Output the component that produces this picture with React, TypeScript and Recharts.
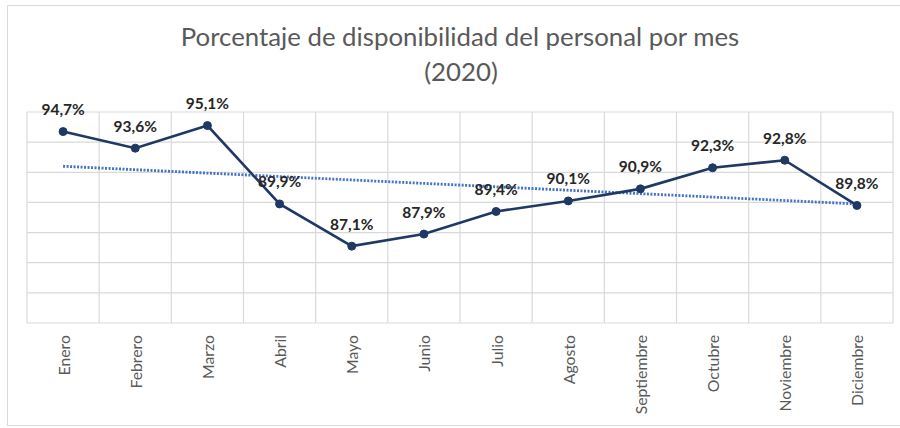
import React from "react";
import { LineChart, Line, XAxis, YAxis, CartesianGrid, LabelList } from "recharts";

const months = ["Enero", "Febrero", "Marzo", "Abril", "Mayo", "Junio", "Julio", "Agosto", "Septiembre", "Octubre", "Noviembre", "Diciembre"];
const availability = [94.7, 93.6, 95.1, 89.9, 87.1, 87.9, 89.4, 90.1, 90.9, 92.3, 92.8, 89.8];
// linear trendline end values (first and last month)
const trendEnds = [92.4, 89.9];
const yTicks = [82, 84, 86, 88, 90, 92, 94, 96];
const titleLines = ["Porcentaje de disponibilidad del personal por mes", "(2020)"];

const data = months.map((m, i) => ({
  month: m,
  value: availability[i],
  trend: i === 0 ? trendEnds[0] : i === months.length - 1 ? trendEnds[1] : null,
}));

const FONT = "Lato, 'Noto Sans', sans-serif";

const renderLabel = (props: any) => {
  const { x, y, value } = props;
  if (value == null) return null;
  return (
    <text
      x={x}
      y={y - 22}
      dy="0.35em"
      textAnchor="middle"
      fontFamily={FONT}
      fontWeight={700}
      fontSize={15.5}
      fill="#262626"
    >
      {Number(value).toFixed(1).replace(".", ",") + "%"}
    </text>
  );
};

const renderTick = (props: any) => {
  const { x, y, payload } = props;
  return (
    <g transform={`translate(${x + 1},${y + 4})`}>
      <text
        transform="rotate(-90)"
        x={0}
        y={0}
        dy="0.35em"
        textAnchor="end"
        fontFamily={FONT}
        fontSize={15.8}
        fill="#595959"
      >
        {payload.value}
      </text>
    </g>
  );
};

const verticalGen = (p: any) => {
  const { offset } = p;
  const n = months.length;
  const arr: number[] = [];
  for (let i = 0; i <= n; i++) arr.push(offset.left + (i * offset.width) / n);
  return arr;
};

export default function App() {
  return (
    <div style={{ position: "absolute", left: 0, top: 0, width: 900, height: 428, background: "#fff", overflow: "hidden" }}>
      <div
        style={{
          position: "absolute",
          left: 7,
          top: 5,
          width: 900,
          height: 421,
          border: "1px solid #d9d9d9",
          boxSizing: "border-box",
        }}
      />
      <svg style={{ position: "absolute", left: 0, top: 0 }} width={900} height={100}>
        <text x={460} y={46} textAnchor="middle" fontFamily={FONT} fontSize={25.8} fill="#595959">
          {titleLines[0]}
        </text>
        <text x={461} y={81} textAnchor="middle" fontFamily={FONT} fontSize={25.8} fill="#595959">
          {titleLines[1]}
        </text>
      </svg>
      <div style={{ position: "absolute", left: 0, top: 0 }}>
        <LineChart width={900} height={428} data={data} margin={{ top: 112, right: 7, bottom: 15, left: 27 }}>
          <CartesianGrid stroke="#d9d9d9" strokeWidth={1.2} verticalCoordinatesGenerator={verticalGen} />
          <XAxis
            dataKey="month"
            scale="band"
            interval={0}
            tickLine={false}
            axisLine={false}
            height={90}
            tick={renderTick}
          />
          <YAxis hide domain={[82, 96]} ticks={yTicks} />
          <Line
            dataKey="trend"
            connectNulls
            stroke="#4472C4"
            strokeWidth={2.8}
            strokeDasharray="2 1.5"
            dot={false}
            activeDot={false}
            isAnimationActive={false}
          />
          <Line
            dataKey="value"
            stroke="#1F3864"
            strokeWidth={2.6}
            dot={{ r: 4, fill: "#1F3864", stroke: "#1F3864", strokeWidth: 1 }}
            activeDot={false}
            isAnimationActive={false}
          >
            <LabelList dataKey="value" content={renderLabel} />
          </Line>
        </LineChart>
      </div>
    </div>
  );
}
